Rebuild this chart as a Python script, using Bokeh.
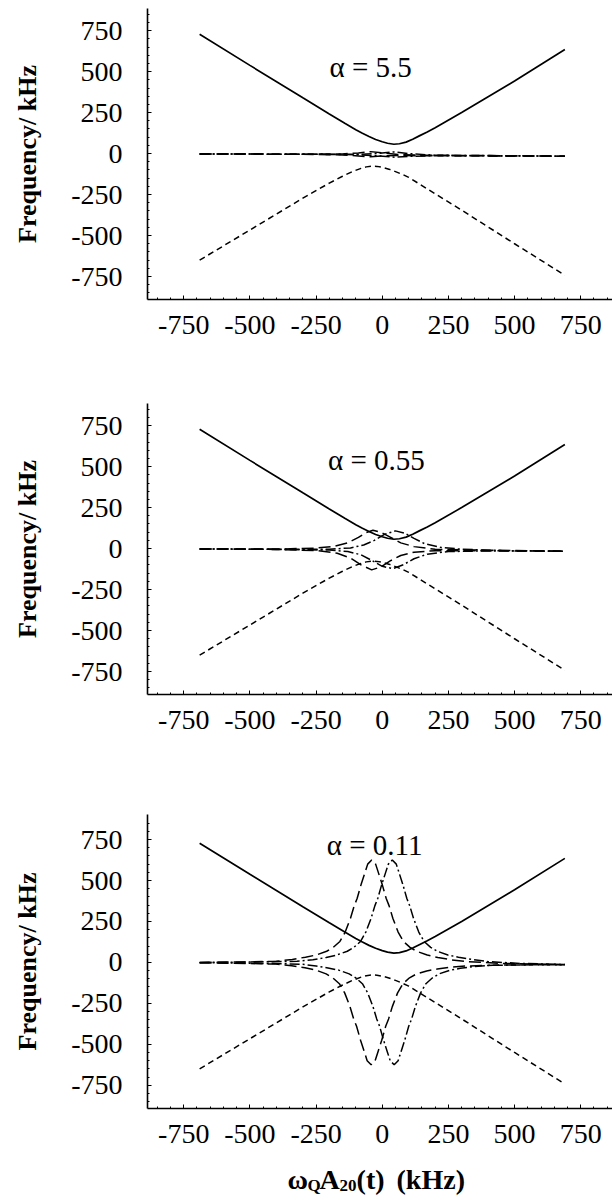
from bokeh.plotting import figure
from bokeh.models import Label, FixedTicker
from bokeh.layouts import column
from bokeh.embed import file_html
from bokeh.resources import INLINE

FONT = "Liberation Serif"

tick_vals = [-750, -500, -250, 0, 250, 500, 750]
tick_text = ["-750", "-500", "-250", "0", "250", "500", "750"]
minor_vals = list(range(-850, 851, 50))

# upper eigenvalue branch (solid), same in every panel
solid_x = [-690, -500, -300, -200, -170, -140, -100, -75, -50, -25, 0, 20, 44, 65, 90, 115, 140, 170, 200, 300, 500, 690]
solid_y = [728, 538, 340, 242, 213, 184, 146, 124, 104, 86, 72, 63, 57, 60, 70, 88, 108, 132, 158, 250, 443, 635]

# lower eigenvalue branch (short dashes), same in every panel
sdash_x = [-690, -500, -300, -200, -150, -110, -80, -60, -40, -20, 0, 25, 50, 75, 100, 150, 200, 300, 500, 690]
sdash_y = [-650, -466, -272, -180, -138, -108, -90, -81, -77, -78, -84, -95, -110, -126, -145, -195, -245, -345, -550, -742]

# alpha = 5.5
a1_ldu_x = [-690, -300, -150, -90, -44, 0, 60, 150, 400, 690]
a1_ldu_y = [-2, -4, -2, 4, 12, 4, -6, -10, -12, -16]
a1_ddu_x = [-690, -300, -100, -30, 45, 100, 200, 400, 690]
a1_ddu_y = [-2, -4, -5, 0, 10, 0, -10, -12, -16]
a1_ldl_x = [-690, -300, -150, -90, -44, 0, 60, 150, 400, 690]
a1_ldl_y = [-2, -4, -8, -14, -20, -14, -12, -13, -14, -16]
a1_ddl_x = [-690, -300, -100, -30, 47, 110, 200, 400, 690]
a1_ddl_y = [-2, -4, -6, -12, -22, -16, -13, -14, -16]

# alpha = 0.55
a2_ldu_x = [-690, -400, -250, -180, -130, -90, -60, -35, -5, 30, 70, 120, 200, 400, 690]
a2_ldu_y = [-2, -3, 3, 14, 35, 68, 98, 112, 100, 70, 35, 12, -4, -10, -16]
a2_ddu_x = [-690, -400, -200, -120, -70, -30, 10, 50, 85, 120, 160, 220, 300, 450, 690]
a2_ddu_y = [-2, -4, -4, 4, 22, 50, 88, 108, 94, 62, 30, 8, -4, -12, -16]
a2_ldl_x = [-690, -400, -250, -170, -120, -80, -40, -5, 30, 70, 120, 200, 400, 690]
a2_ldl_y = [-2, -5, -12, -28, -58, -100, -130, -112, -75, -42, -22, -13, -13, -16]
a2_ddl_x = [-690, -400, -200, -130, -80, -40, 0, 40, 80, 120, 170, 250, 400, 690]
a2_ddl_y = [-2, -5, -9, -18, -38, -72, -108, -122, -98, -62, -34, -18, -14, -16]

# alpha = 0.11
a3_ldu_x = [-690, -500, -400, -340, -290, -250, -210, -185, -160, -140, -120, -106, -95, -80, -66, -55, -40,
            -25, -14, 0, 15, 26, 40, 60, 80, 105, 130, 170, 210, 260, 320, 450, 690]
a3_ldu_y = [0, 3, 7, 18, 32, 45, 68, 92, 128, 185, 270, 345, 390, 475, 545, 600, 625,
            600, 545, 475, 390, 345, 270, 185, 128, 92, 68, 45, 30, 16, 5, -6, -13]
a3_ddu_x = [-690, -500, -322, -262, -212, -172, -132, -107, -82, -62, -42, -28, -17, -2, 12, 23, 38,
            53, 64, 78, 93, 104, 118, 138, 158, 183, 208, 248, 288, 338, 398, 520, 690]
a3_ddu_y = [0, 2, 7, 16, 30, 45, 68, 92, 128, 185, 270, 345, 390, 475, 545, 600, 625,
            600, 545, 475, 390, 345, 270, 185, 128, 92, 68, 45, 32, 18, 5, -6, -13]
a3_ldl_x = [-690, -500, -402, -342, -292, -252, -212, -187, -162, -142, -122, -108, -97, -82, -68, -57, -42,
            -27, -16, -2, 13, 24, 38, 58, 78, 103, 128, 168, 208, 258, 318, 450, 690]
a3_ldl_y = [-2, -7, -10, -20, -33, -46, -70, -94, -130, -186, -270, -345, -390, -475, -545, -600, -625,
            -600, -545, -475, -390, -345, -270, -186, -130, -94, -72, -52, -40, -30, -22, -16, -14]
a3_ddl_x = [-690, -500, -360, -300, -250, -205, -165, -125, -100, -75, -55, -35, -21, -10, 5, 19, 30, 45,
            60, 71, 85, 100, 111, 125, 145, 165, 190, 215, 255, 295, 345, 405, 545, 690]
a3_ddl_y = [-2, -5, -9, -12, -22, -34, -47, -70, -94, -130, -186, -270, -345, -390, -475, -545, -600, -625,
            -600, -545, -475, -390, -345, -270, -186, -130, -94, -70, -48, -36, -25, -18, -15, -14]

LD, DD = "12 5", "10 3 2 3"
panels = [
    dict(alpha="\u03b1 = 5.5", ax=-44, ay=526, yr=(-890, 885), fh=291, top=8, bottom=89,
         curves=[(a1_ldu_x, a1_ldu_y, LD), (a1_ddu_x, a1_ddu_y, DD),
                 (a1_ldl_x, a1_ldl_y, LD), (a1_ddl_x, a1_ddl_y, DD)]),
    dict(alpha="\u03b1 = 0.55", ax=-22, ay=540, yr=(-890, 885), fh=291, top=15, bottom=84,
         curves=[(a2_ldu_x, a2_ldu_y, LD), (a2_ddu_x, a2_ddu_y, DD),
                 (a2_ldl_x, a2_ldl_y, LD), (a2_ddl_x, a2_ddl_y, DD)]),
    dict(alpha="\u03b1 = 0.11", ax=-29, ay=719, yr=(-892, 903), fh=294, top=36, bottom=50,
         curves=[(a3_ldu_x, a3_ldu_y, LD), (a3_ddu_x, a3_ddu_y, DD),
                 (a3_ldl_x, a3_ldl_y, LD), (a3_ddl_x, a3_ddl_y, DD)]),
]

XR = (-887, 870)


def make_panel(cfg):
    p = figure(frame_width=465, frame_height=cfg["fh"], x_range=XR, y_range=cfg["yr"],
               output_backend="svg", toolbar_location=None,
               min_border_left=147, min_border_right=0,
               min_border_top=cfg["top"], min_border_bottom=cfg["bottom"])
    p.outline_line_color = None
    p.xgrid.visible = False
    p.ygrid.visible = False

    for ax in (p.xaxis, p.yaxis):
        ax.ticker = FixedTicker(ticks=tick_vals, minor_ticks=minor_vals)
        ax.major_label_overrides = dict(zip(tick_vals, tick_text))
        ax.axis_line_width = 1.6
        ax.axis_line_color = "black"
        ax.major_tick_in = 4
        ax.major_tick_out = 0
        ax.minor_tick_in = 2
        ax.minor_tick_out = 0
        ax.major_tick_line_color = "black"
        ax.minor_tick_line_color = "black"
        ax.major_label_text_font = FONT
        ax.major_label_text_font_size = "28px"
        ax.major_label_text_color = "black"
    p.xaxis.major_label_standoff = 16
    p.yaxis.major_label_standoff = 25

    p.yaxis.axis_label = "Frequency/ kHz"
    p.yaxis.axis_label_text_font = FONT
    p.yaxis.axis_label_text_font_size = "26px"
    p.yaxis.axis_label_text_font_style = "bold"
    p.yaxis.axis_label_text_color = "black"
    p.yaxis.axis_label_standoff = 26

    p.line(solid_x, solid_y, line_color="black", line_width=1.7)
    p.line(sdash_x, sdash_y, line_color="black", line_width=1.5, line_dash="6 4")
    for xs, ys, dash in cfg["curves"]:
        p.line(xs, ys, line_color="black", line_width=1.5, line_dash=dash)

    p.add_layout(Label(x=cfg["ax"], y=cfg["ay"], text=cfg["alpha"], text_font=FONT,
                       text_font_size="29px", text_align="center", text_baseline="middle",
                       text_color="black"))
    return p


figs = [make_panel(c) for c in panels]

# strip below the last panel that carries the x axis title (with subscripts)
xl = figure(frame_width=465, frame_height=37, x_range=XR, y_range=(0, 37),
            output_backend="svg", toolbar_location=None,
            min_border_left=147, min_border_right=0, min_border_top=0, min_border_bottom=0)
xl.axis.visible = False
xl.grid.visible = False
xl.outline_line_color = None
pieces = [("\u03c9", -358, "28px", 16), ("Q", -282, "17px", 10), ("A", -237, "28px", 16),
          ("20", -162, "17px", 10), ("(t)", -97, "28px", 16), ("(kHz)", 54, "28px", 16)]
for txt, xx, size, yy in pieces:
    xl.add_layout(Label(x=xx, y=yy, text=txt, text_font=FONT, text_font_size=size,
                        text_font_style="bold", text_align="left", text_baseline="alphabetic",
                        text_color="black"))
figs.append(xl)

layout = column(*figs)
open("out.html", "w").write(file_html(layout, INLINE))
